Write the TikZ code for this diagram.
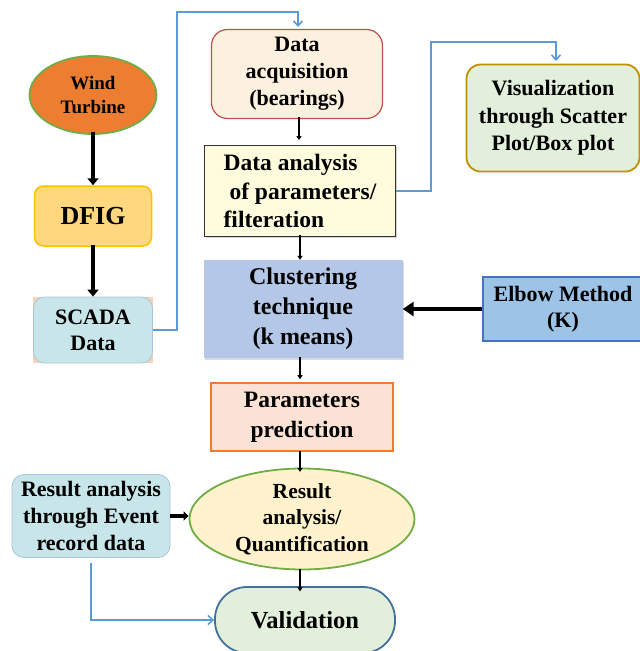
\documentclass[tikz,border=0pt]{standalone}
\usepackage{fontspec}
\setmainfont{Liberation Serif}
\usetikzlibrary{shapes.geometric,arrows.meta,shadows}

\definecolor{turbfill}{HTML}{ED7D31}
\definecolor{turbline}{HTML}{70AD47}
\definecolor{dfigfill}{HTML}{FFD77F}
\definecolor{dfigline}{HTML}{FFC000}
\definecolor{scadafill}{HTML}{C8E6EA}
\definecolor{scadaline}{HTML}{A9C4D8}
\definecolor{peach}{HTML}{F9D2BC}
\definecolor{acqfill}{HTML}{FCF0DF}
\definecolor{acqline}{HTML}{C0504D}
\definecolor{anafill}{HTML}{FEFCDC}
\definecolor{clusfill}{HTML}{B4C7E7}
\definecolor{elbfill}{HTML}{9DC3E6}
\definecolor{elbline}{HTML}{4472C4}
\definecolor{visfill}{HTML}{E2EFDA}
\definecolor{visline}{HTML}{BF9000}
\definecolor{parfill}{HTML}{FBE2D5}
\definecolor{parline}{HTML}{ED7D31}
\definecolor{resfill}{HTML}{FFF2CC}
\definecolor{valline}{HTML}{41719C}
\definecolor{link}{HTML}{5B9BD5}

\tikzset{
  box/.style={align=center, inner sep=0pt, font=\bfseries},
  fs/.style 2 args={font=\bfseries\fontsize{#1}{#2}\selectfont},
  thinarrow/.style={draw=black, line width=1.6pt, -{Triangle[length=4pt,width=5pt]}},
  fatarrow/.style={draw=black, line width=4pt, -{Triangle[length=7pt,width=11pt]}},
  bluelink/.style={draw=link, line width=1.6pt, -{Straight Barb[length=5pt,width=9pt]}},
}

\begin{document}
\begin{tikzpicture}[x=1pt,y=-1pt]
\useasboundingbox (0,0) rectangle (640,651);

% left column
\node[box, ellipse, fill=turbfill, draw=turbline, line width=1.8pt,
      minimum width=127pt, minimum height=78pt, fs={19}{24}] (wt) at (93,95) {Wind\\Turbine};
\node[box, rounded corners=9pt, fill=dfigfill, draw=dfigline, line width=1.5pt,
      minimum width=117pt, minimum height=60pt, fs={26}{28}] (dfig) at (93,216) {DFIG};
\fill[peach] (33,297) rectangle (153,363);
\node[box, rounded corners=11pt, fill=scadafill, draw=scadaline, line width=0.8pt,
      minimum width=119pt, minimum height=66pt, fs={22}{26}] (scada) at (93,330) {SCADA\\Data};

% central column
\node[box, rounded corners=16pt, fill=acqfill, draw=acqline, line width=1.2pt,
      minimum width=171pt, minimum height=89pt, fs={22}{27}] (acq) at (297,74) {Data\\acquisition\\(bearings)};
\node[box, align=left, fill=anafill, draw=black!80, line width=1pt, drop shadow={opacity=0.35,shadow xshift=1.5pt,shadow yshift=-1.5pt},
      minimum width=191pt, minimum height=91pt, fs={23.5}{28.5}] (ana) at (300,191) {Data analysis\\\ of parameters/\\filteration};
\node[box, fill=clusfill, drop shadow={opacity=0.3,shadow xshift=1.5pt,shadow yshift=-1.5pt},
      minimum width=199pt, minimum height=98pt, fs={24}{30}] (clus) at (303,309) {Clustering\\technique\\(k means)};
\node[box, fill=parfill, draw=parline, line width=1.8pt,
      minimum width=182pt, minimum height=68pt, fs={23.5}{30}] (par) at (302,417) {Parameters\\prediction};
\node[box, ellipse, fill=resfill, draw=turbline, line width=1.8pt,
      minimum width=225pt, minimum height=89pt, fs={21.5}{26.5}] (res) at (302,519) {Result\\analysis/\\Quantification};
\node[box, rounded corners=32pt, fill=visfill, draw=valline, line width=1.8pt,
      minimum width=180pt, minimum height=66pt, fs={24.5}{26}] (val) at (305,620) {Validation};

% right column
\node[box, rounded corners=14pt, fill=visfill, draw=visline, line width=1.8pt,
      minimum width=173pt, minimum height=107pt, fs={22}{27.5}] (vis) at (553,118) {Visualization\\through Scatter\\Plot/Box plot};
\node[box, fill=elbfill, draw=elbline, line width=1.2pt,
      minimum width=160pt, minimum height=64pt, fs={22}{26}] (elb) at (563,309) {Elbow Method\\(K)};

% left lower
\node[box, rounded corners=12pt, fill=scadafill, draw=scadaline, line width=0.8pt,
      minimum width=158pt, minimum height=83pt, fs={22}{27}] (evt) at (91,516) {Result analysis\\through Event\\record data};

% connectors
\draw[fatarrow] ([yshift=3pt]wt.south) -- (dfig.north);
\draw[fatarrow] ([yshift=2pt]dfig.south) -- (scada.north);
\draw[thinarrow] ([xshift=2pt,yshift=2pt]acq.south) -- ++(0,23);
\draw[thinarrow] ([yshift=2pt]ana.south) -- (ana.south |- clus.north);
\draw[thinarrow] ([xshift=-3pt,yshift=1pt]clus.south) -- ++(0,22);
\draw[thinarrow] ([xshift=-2pt,yshift=1pt]par.south) -- ++(0,21);
\draw[thinarrow] ([xshift=-2pt,yshift=1pt]res.south) -- ++(0,22);
\draw[draw=black, line width=4.5pt, -{Triangle[length=11pt,width=14pt]}] (elb.west) -- (clus.east);
\draw[line width=4pt, -{Triangle[length=5pt,width=9pt]}] (evt.east) -- (evt.east -| res.west);

\coordinate (sc1) at (177,330);
\draw[bluelink] (scada.east) -- (sc1) |- (298,12) -- (298,27);
\coordinate (an1) at (431,191);
\draw[bluelink] (ana.east) -- (an1) |- (556,42) -- (556,61);
\coordinate (ev1) at (91,563);
\draw[bluelink] (ev1) |- (val.west);
\end{tikzpicture}
\end{document}
